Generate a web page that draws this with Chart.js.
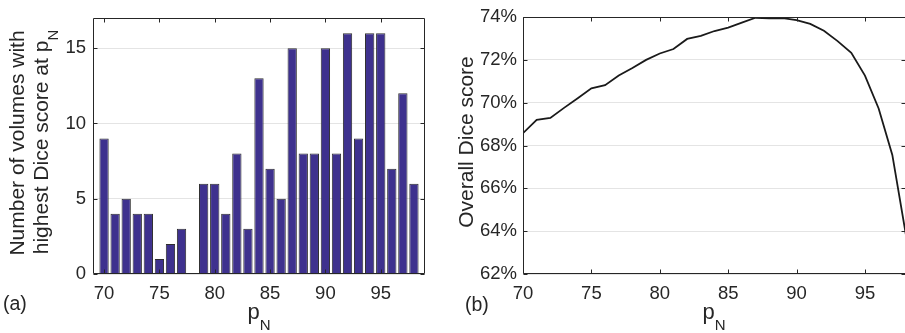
<!DOCTYPE html>
<html>
<head>
<meta charset="utf-8">
<script src="https://cdn.jsdelivr.net/npm/chart.js@4.4.1/dist/chart.umd.min.js"></script>
<style>
  html, body { margin: 0; padding: 0; background: #fff; overflow: hidden; width: 905px; height: 333px; }
  #left { position: absolute; left: 0; top: 0; width: 450px; height: 333px; }
  #right { position: absolute; left: 450px; top: 0; width: 457px; height: 333px; }
</style>
</head>
<body>
<div id="left"><canvas id="c1"></canvas></div>
<div id="right"><canvas id="c2"></canvas></div>
<script>
// ---- data ----
const pN = [70,71,72,73,74,75,76,77,78,79,80,81,82,83,84,85,86,87,88,89,90,91,92,93,94,95,96,97,98];
const volumeCounts = [9,4,5,4,4,1,2,3,0,6,6,4,8,3,13,7,5,15,8,8,15,8,16,9,16,16,7,12,6];
const diceScores = [68.58,69.20,69.29,69.76,70.21,70.67,70.82,71.27,71.62,72.00,72.30,72.51,72.98,73.12,73.35,73.51,73.74,73.97,73.94,73.95,73.86,73.68,73.36,72.88,72.33,71.27,69.73,67.56,63.8];
const xTickValues = [70,75,80,85,90,95];
const countTicks = [0,5,10,15];
const diceTicks = [62,64,66,68,70,72,74];

const FONT = "'Liberation Sans', Arial, Helvetica, sans-serif";
const TXT = '#262626';

function drawParts(ctx, parts, x, y, rot, align) {
  ctx.save();
  ctx.translate(x, y);
  ctx.rotate(rot || 0);
  ctx.textBaseline = 'alphabetic';
  ctx.textAlign = 'left';
  ctx.fillStyle = TXT;
  let total = 0;
  const ws = parts.map(p => { ctx.font = p.size + 'px ' + FONT; const w = ctx.measureText(p.t).width; total += w; return w; });
  let cur = align === 'left' ? 0 : -total / 2;
  parts.forEach((p, i) => {
    ctx.font = p.size + 'px ' + FONT;
    ctx.fillText(p.t, cur, p.dy || 0);
    cur += ws[i];
  });
  ctx.restore();
}

const framePlugin = {
  id: 'frame',
  afterDatasetsDraw(chart, args, opts) {
    const { ctx, chartArea: a, scales } = chart;
    ctx.save();
    ctx.strokeStyle = '#262626';
    ctx.lineWidth = 1;
    const L = Math.round(a.left) + 0.5, R = Math.round(a.right) - 0.5;
    const T = Math.round(a.top) + 0.5, B = Math.round(a.bottom) - 0.5;
    ctx.beginPath();
    ctx.rect(L, T, R - L, B - T);
    ctx.stroke();
    const tl = 4;
    ctx.beginPath();
    opts.xTicks.forEach(v => {
      const px = Math.round(scales.x.getPixelForValue(v)) + 0.5;
      ctx.moveTo(px, B); ctx.lineTo(px, B - tl);
      ctx.moveTo(px, T); ctx.lineTo(px, T + tl);
    });
    opts.yTicks.forEach(v => {
      const py = Math.round(scales.y.getPixelForValue(v)) + 0.5;
      ctx.moveTo(L, py); ctx.lineTo(L + tl, py);
      ctx.moveTo(R, py); ctx.lineTo(R - tl, py);
    });
    ctx.stroke();
    ctx.restore();
  },
  afterDraw(chart, args, opts) {
    const ctx = chart.ctx;
    (opts.texts || []).forEach(t => drawParts(ctx, t.parts, t.x, t.y, t.rot, t.align));
  }
};

function setTicks(list) {
  return s => { s.ticks = list.map(v => ({ value: v })); };
}

new Chart(document.getElementById('c1'), {
  type: 'bar',
  data: {
    datasets: [{
      data: pN.map((x, i) => ({ x: x, y: volumeCounts[i] })),
      backgroundColor: '#3e318e',
      borderColor: '#2e2e2e',
      borderWidth: 1,
      barPercentage: 0.84,
      categoryPercentage: 1.0
    }]
  },
  options: {
    responsive: true, maintainAspectRatio: false, animation: false,
    layout: { padding: { top: 10, right: 25, left: 0, bottom: 0 } },
    plugins: {
      legend: { display: false }, tooltip: { enabled: false },
      frame: {
        xTicks: xTickValues, yTicks: countTicks,
        texts: [
          { parts: [{ t: 'Number of volumes with', size: 21 }], x: 24, y: 143, rot: -Math.PI / 2 },
          { parts: [{ t: 'highest Dice score at p', size: 21 }, { t: 'N', size: 15, dy: 10 }], x: 48, y: 142, rot: -Math.PI / 2 },
          { parts: [{ t: 'p', size: 22 }, { t: 'N', size: 15, dy: 11 }], x: 259, y: 319 },
          { parts: [{ t: '(a)', size: 19.5 }], x: 3, y: 310, align: 'left' }
        ]
      }
    },
    scales: {
      x: {
        type: 'linear', min: 69, max: 99, offset: false,
        afterBuildTicks: setTicks(xTickValues),
        afterFit: s => { s.height = 59; },
        grid: { display: false, drawTicks: false },
        border: { display: false },
        ticks: { color: TXT, font: { family: FONT, size: 18.5 }, padding: 9, maxRotation: 0, autoSkip: false }
      },
      y: {
        min: 0, max: 17,
        afterBuildTicks: setTicks(countTicks),
        afterFit: s => { s.width = 93; },
        grid: { color: '#e4e4e4', drawTicks: false, lineWidth: 1 },
        border: { display: false },
        ticks: { color: TXT, font: { family: FONT, size: 18.5 }, padding: 7 }
      }
    }
  },
  plugins: [framePlugin]
});

new Chart(document.getElementById('c2'), {
  type: 'line',
  data: {
    datasets: [{
      data: pN.map((x, i) => ({ x: x, y: diceScores[i] })),
      borderColor: '#1a1a1a',
      borderWidth: 1.8,
      pointRadius: 0,
      tension: 0,
      fill: false
    }]
  },
  options: {
    responsive: true, maintainAspectRatio: false, animation: false,
    layout: { padding: { top: 10, right: 1, left: 0, bottom: 0 } },
    plugins: {
      legend: { display: false }, tooltip: { enabled: false },
      frame: {
        xTicks: xTickValues, yTicks: diceTicks,
        texts: [
          { parts: [{ t: 'Overall Dice score', size: 21 }], x: 23, y: 142, rot: -Math.PI / 2 },
          { parts: [{ t: 'p', size: 22 }, { t: 'N', size: 15, dy: 11 }], x: 264, y: 319 },
          { parts: [{ t: '(b)', size: 19.5 }], x: 15, y: 311, align: 'left' }
        ]
      }
    },
    scales: {
      x: {
        type: 'linear', min: 70, max: 98,
        afterBuildTicks: setTicks(xTickValues),
        afterFit: s => { s.height = 59; },
        grid: { display: false, drawTicks: false },
        border: { display: false },
        ticks: { color: TXT, font: { family: FONT, size: 18.5 }, padding: 9, maxRotation: 0, autoSkip: false }
      },
      y: {
        min: 62, max: 74,
        afterBuildTicks: setTicks(diceTicks),
        afterFit: s => { s.width = 73; },
        grid: { color: '#e4e4e4', drawTicks: false, lineWidth: 1 },
        border: { display: false },
        ticks: { color: TXT, font: { family: FONT, size: 18.5 }, padding: 6, callback: v => v + '%' }
      }
    }
  },
  plugins: [framePlugin]
});
</script>
</body>
</html>
